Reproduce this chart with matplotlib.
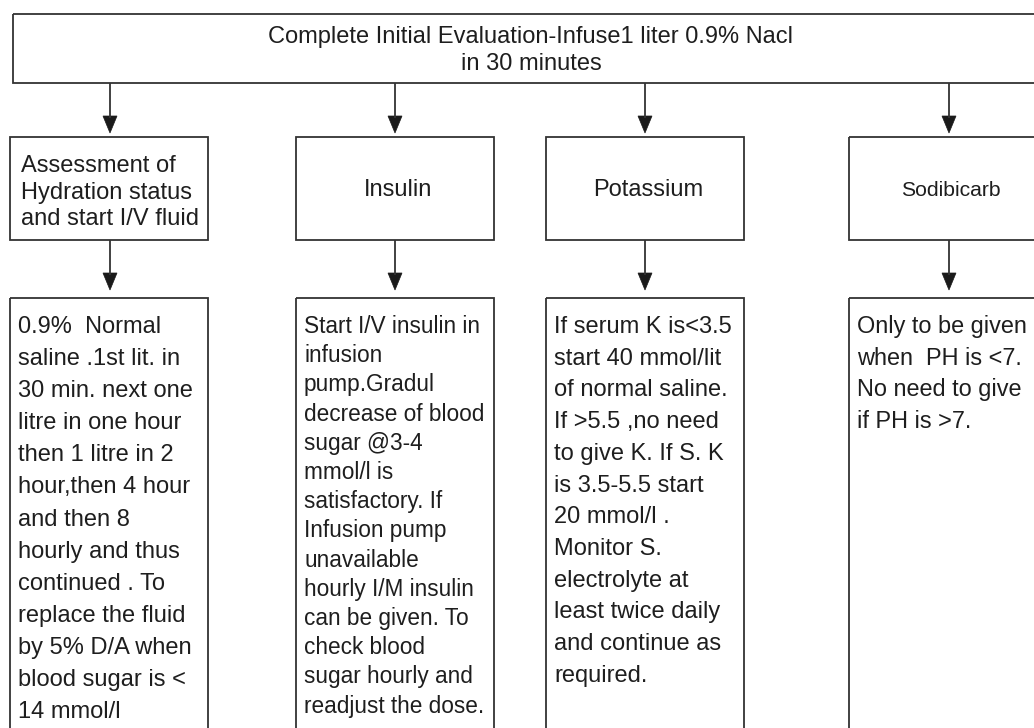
import matplotlib
matplotlib.use("Agg")
from matplotlib import pyplot as plt
from matplotlib.patches import Rectangle, Polygon

plt.rcParams["font.family"] = ["Liberation Sans", "DejaVu Sans"]

# ---- content ----------------------------------------------------- #
top_text = ["Complete Initial Evaluation-Infuse1 liter 0.9% Nacl", "in 30 minutes"]

headers = [
    ["Assessment of", "Hydration status", "and start I/V fluid"],
    ["Insulin"],
    ["Potassium"],
    ["Sodibicarb"],
]

details = [
    ["0.9%  Normal", "saline .1st lit. in", "30 min. next one", "litre in one hour",
     "then 1 litre in 2", "hour,then 4 hour", "and then 8", "hourly and thus",
     "continued . To", "replace the fluid", "by 5% D/A when", "blood sugar is <",
     "14 mmol/l"],
    ["Start I/V insulin in", "infusion", "pump.Gradul", "decrease of blood",
     "sugar @3-4", "mmol/l is", "satisfactory. If", "Infusion pump",
     "unavailable", "hourly I/M insulin", "can be given. To", "check blood",
     "sugar hourly and", "readjust the dose."],
    ["If serum K is<3.5", "start 40 mmol/lit", "of normal saline.", "If >5.5 ,no need",
     "to give K. If S. K", "is 3.5-5.5 start", "20 mmol/l .", "Monitor S.",
     "electrolyte at", "least twice daily", "and continue as", "required."],
    ["Only to be given", "when  PH is <7.", "No need to give", "if PH is >7."],
]

# ---- layout (pixels, y down) ------------------------------------- #
col_left = [10, 296, 546, 849]
col_arrow = [110, 395, 645, 949]
box_w = 198
detail_size = [17, 16.3, 17, 16.9]
detail_step = [32.1, 29.2, 31.7, 31.7]
header_size = [17, 17, 17, 15.2]

EDGE = "#333333"
INK = "#1e1e1e"

fig = plt.figure(figsize=(10.34, 7.28), dpi=100)
ax = fig.add_axes([0, 0, 1, 1])
ax.set_xlim(0, 1034)
ax.set_ylim(728, 0)
ax.axis("off")


def box(x, y, w, h):
    ax.add_patch(Rectangle((x, y), w, h, fill=False, edgecolor=EDGE, lw=1.3))


def arrow(x, y0, y1):
    ax.plot([x, x], [y0, y1 - 15], color=EDGE, lw=1.3, solid_capstyle="butt")
    ax.add_patch(Polygon([[x - 7, y1 - 17], [x + 7, y1 - 17], [x, y1]],
                         closed=True, facecolor="#1a1a1a", edgecolor="#1a1a1a", lw=0.5))


# top box
box(13, 14, 1100, 69)
for i, line in enumerate(top_text):
    ax.text(531, 43 + i * 27, line, fontsize=17, color=INK, ha="center", va="baseline")

for i in range(4):
    x0 = col_left[i]
    arrow(col_arrow[i], 83, 133)
    box(x0, 137, box_w, 103)
    lines = headers[i]
    if len(lines) > 1:
        for j, line in enumerate(lines):
            ax.text(x0 + 11, 172 + j * 26.5, line, fontsize=header_size[i],
                    color=INK, ha="left", va="baseline")
    else:
        ax.text(x0 + box_w / 2 + 3, 190, lines[0], fontsize=header_size[i],
                color=INK, ha="center", va="center")

    arrow(col_arrow[i], 240, 290)
    box(x0, 298, box_w, 500)
    for j, line in enumerate(details[i]):
        ax.text(x0 + 8, 333 + j * detail_step[i], line, fontsize=detail_size[i],
                color=INK, ha="left", va="baseline")

fig.savefig("out.png", dpi=100, facecolor="white")
